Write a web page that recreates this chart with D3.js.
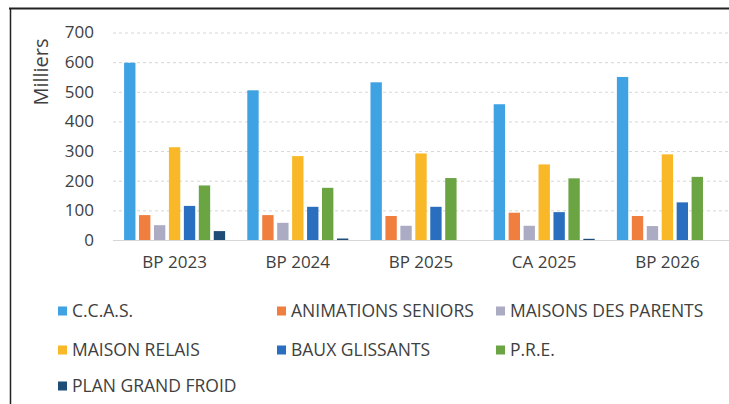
<!DOCTYPE html>
<html>
<head>
<meta charset="utf-8">
<script src="https://cdn.jsdelivr.net/npm/d3@7"></script>
<style>
  body { margin: 0; background: #fff; }
  text { font-family: "Open Sans", sans-serif; fill: #404040; }
</style>
</head>
<body>
<div id="chart"></div>
<script>
// budget par poste, en milliers
const categories = ["BP 2023", "BP 2024", "BP 2025", "CA 2025", "BP 2026"];
const seriesNames = ["C.C.A.S.", "ANIMATIONS SENIORS", "MAISONS DES PARENTS", "MAISON RELAIS", "BAUX GLISSANTS", "P.R.E.", "PLAN GRAND FROID"];
const ccas = [598, 505, 532, 458, 550];
const animations = [84, 84, 81, 92, 81];
const maisonsParents = [50, 58, 48, 48, 47];
const maisonRelais = [313, 283, 292, 255, 289];
const bauxGlissants = [115, 112, 112, 94, 127];
const pre = [184, 176, 209, 208, 213];
const planGrandFroid = [30, 5, 0, 4, 0];
const yTicks = [0, 100, 200, 300, 400, 500, 600, 700];

const colors = ["#3fa2e3", "#f07e3e", "#abacc4", "#f8b828", "#2a6ebf", "#6ba443", "#1e4d78"];
const values = [ccas, animations, maisonsParents, maisonRelais, bauxGlissants, pre, planGrandFroid];

const width = 729, height = 404;

let svg = d3.select("#chart")
    .append("svg")
    .attr("width", width)
    .attr("height", height);

let x0 = d3.scaleBand()
    .domain(categories)
    .range([113, 729])
    .paddingInner(0.18)
    .paddingOuter(0.09);

let x1 = d3.scaleBand()
    .domain(d3.range(seriesNames.length))
    .range([0, x0.bandwidth()])
    .paddingInner(0.24);

let y = d3.scaleLinear()
    .domain([0, 700])
    .range([240, 32.5]);

// grid lines
svg.append("g")
    .selectAll("line")
    .data(yTicks)
    .enter()
    .append("line")
    .attr("x1", 113)
    .attr("x2", 729)
    .attr("y1", d => y(d) + 0.5)
    .attr("y2", d => y(d) + 0.5)
    .attr("stroke", "#d6d6d6")
    .attr("stroke-dasharray", d => d === 0 ? null : "3,3");

// y axis labels
let yAxis = svg.append("g")
    .attr("transform", "translate(94,0)")
    .call(d3.axisLeft(y).tickValues(yTicks).tickSize(0).tickPadding(0));
yAxis.select(".domain").remove();
yAxis.selectAll("text")
    .style("font-size", "17px")
    .style("font-family", "Open Sans, sans-serif")
    .attr("fill", "#404040");

svg.append("text")
    .attr("transform", "translate(48, 72) rotate(-90)")
    .style("text-anchor", "middle")
    .style("font-size", "20px")
    .text("Milliers");

// bars
let groups = svg.append("g")
    .selectAll("g")
    .data(categories)
    .enter()
    .append("g")
    .attr("transform", d => `translate(${x0(d)},0)`);

groups.selectAll("rect")
    .data((c, i) => values.map((v, s) => ({ s: s, v: v[i] })))
    .enter()
    .append("rect")
    .attr("x", d => x1(d.s))
    .attr("y", d => y(d.v))
    .attr("width", x1.bandwidth())
    .attr("height", d => y(0) - y(d.v))
    .attr("fill", d => colors[d.s]);

// category labels
let xAxis = svg.append("g")
    .attr("transform", "translate(0,256)")
    .call(d3.axisBottom(x0).tickSize(0).tickPadding(0));
xAxis.select(".domain").remove();
xAxis.selectAll("text")
    .style("font-size", "17px")
    .style("font-family", "Open Sans, sans-serif")
    .attr("fill", "#404040");

// legend
const legendCols = [58, 277, 496];
const legendRows = [311, 350, 386];
let legend = svg.append("g")
    .selectAll("g")
    .data(seriesNames)
    .enter()
    .append("g")
    .attr("transform", (d, i) => `translate(${legendCols[i % 3]},${legendRows[Math.floor(i / 3)]})`);

legend.append("rect")
    .attr("x", 0)
    .attr("y", -4.5)
    .attr("width", 9)
    .attr("height", 9)
    .attr("fill", (d, i) => colors[i]);

legend.append("text")
    .attr("x", 14)
    .attr("dy", "0.35em")
    .style("font-size", "17.5px")
    .text(d => d);

// frame
svg.append("line")
    .attr("x1", 9).attr("x2", 729)
    .attr("y1", 8.5).attr("y2", 8.5)
    .attr("stroke", "#222").attr("stroke-width", 2);
svg.append("line")
    .attr("x1", 10.5).attr("x2", 10.5)
    .attr("y1", 8).attr("y2", 404)
    .attr("stroke", "#222").attr("stroke-width", 1.5);
</script>
</body>
</html>
